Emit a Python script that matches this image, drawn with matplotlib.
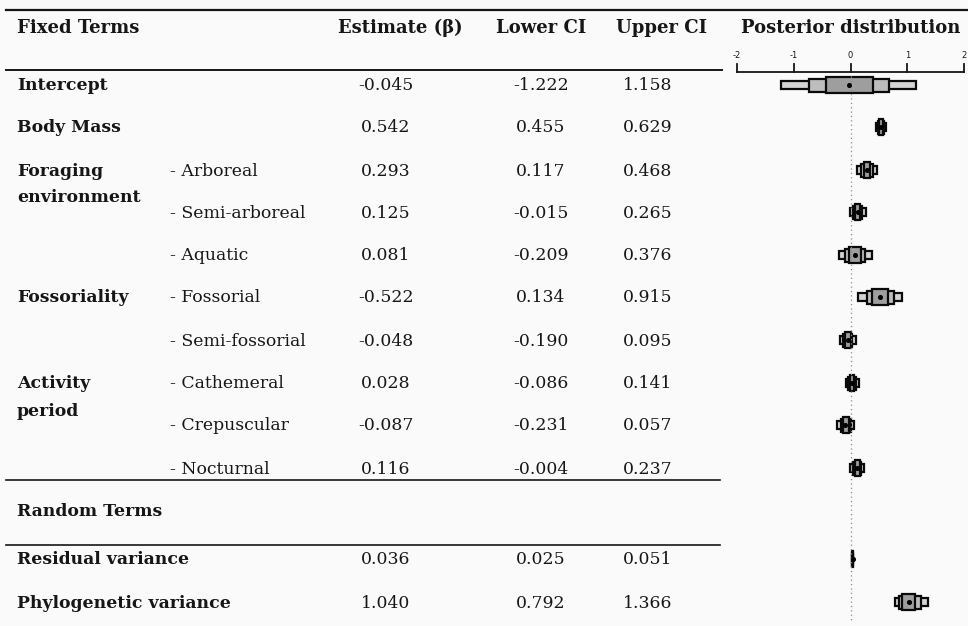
"""
Model summary table with posterior distribution boxes (MCMCglmm style).
"""

import matplotlib.pyplot as plt

# ---- data -----------------------------------------------------------------
group_labels = ["Intercept", "Body Mass", "Foraging\nenvironment", "", "",
                "Fossoriality", "", "Activity\nperiod", "", ""]
level_labels = ["", "", "- Arboreal", "- Semi-arboreal", "- Aquatic",
                "- Fossorial", "- Semi-fossorial", "- Cathemeral",
                "- Crepuscular", "- Nocturnal"]
random_labels = ["Residual variance", "Phylogenetic variance"]

estimate = ["-0.045", "0.542", "0.293", "0.125", "0.081", "-0.522", "-0.048",
            "0.028", "-0.087", "0.116", "0.036", "1.040"]
lower_ci = ["-1.222", "0.455", "0.117", "-0.015", "-0.209", "0.134", "-0.190",
            "-0.086", "-0.231", "-0.004", "0.025", "0.792"]
upper_ci = ["1.158", "0.629", "0.468", "0.265", "0.376", "0.915", "0.095",
            "0.141", "0.057", "0.237", "0.051", "1.366"]

# posterior summaries (outer box = 95% CI from the table)
post_median = [-0.03, 0.54, 0.29, 0.125, 0.08, 0.52, -0.05, 0.03, -0.09, 0.115, 0.037, 1.03]
mid_low = [-0.74, 0.49, 0.19, 0.04, -0.09, 0.29, -0.13, -0.04, -0.175, 0.045, 0.031, 0.86]
mid_high = [0.67, 0.59, 0.40, 0.21, 0.26, 0.76, 0.035, 0.095, 0.0, 0.19, 0.045, 1.25]
in_low = [-0.44, 0.51, 0.23, 0.075, -0.02, 0.38, -0.10, -0.01, -0.14, 0.075, 0.033, 0.91]
in_high = [0.40, 0.57, 0.35, 0.175, 0.19, 0.66, 0.0, 0.07, -0.035, 0.16, 0.042, 1.14]

axis_ticks = [-2, -1, 0, 1, 2]

# ---- layout (pixel rows) --------------------------------------------------
W, H = 968, 626
row_y = [86, 128, 171, 213, 256, 298, 341, 384, 426, 469, 560, 603]
random_header_y = 512
header_y = 28

ink = "#161616"
font = "DejaVu Serif"
fs = 12.4
fs_head = 13

fig = plt.figure(figsize=(W / 100, H / 100), dpi=100, facecolor="#fafafa")
ax = fig.add_axes([0, 0, 1, 1])
ax.set_xlim(0, W)
ax.set_ylim(H, 0)
ax.axis("off")

# horizontal rules
ax.plot([6, W], [10, 10], color=ink, lw=1.6)
ax.plot([6, 722], [70, 70], color=ink, lw=1.4)
ax.plot([6, 720], [480, 480], color=ink, lw=1.2)
ax.plot([6, 720], [545, 545], color=ink, lw=1.2)

txt = dict(fontfamily=font, color=ink, va="center")

# header
ax.text(17, header_y, "Fixed Terms", ha="left", fontweight="bold", fontsize=fs_head, **txt)
ax.text(400, header_y, "Estimate (β)", ha="center", fontweight="bold", fontsize=fs_head, **txt)
ax.text(541, header_y, "Lower CI", ha="center", fontweight="bold", fontsize=fs_head, **txt)
ax.text(662, header_y, "Upper CI", ha="center", fontweight="bold", fontsize=fs_head, **txt)
ax.text(851, header_y, "Posterior distribution", ha="center", fontweight="bold",
        fontsize=fs_head, **txt)
ax.text(17, random_header_y, "Random Terms", ha="left", fontweight="bold", fontsize=fs, **txt)

# fixed term rows
for i in range(len(group_labels)):
    y = row_y[i]
    for k, line in enumerate(group_labels[i].split("\n")):
        if line:
            ax.text(17, y + k * 27, line, ha="left", fontweight="bold", fontsize=fs, **txt)
    if level_labels[i]:
        ax.text(170, y, level_labels[i], ha="left", fontsize=fs, **txt)

# random term rows
for j, lab in enumerate(random_labels):
    ax.text(17, row_y[10 + j], lab, ha="left", fontweight="bold", fontsize=fs, **txt)

# numeric columns
for i in range(len(estimate)):
    y = row_y[i]
    ax.text(386, y, estimate[i], ha="center", fontsize=fs, **txt)
    ax.text(541, y, lower_ci[i], ha="center", fontsize=fs, **txt)
    ax.text(648, y, upper_ci[i], ha="center", fontsize=fs, **txt)

# ---- posterior panel ------------------------------------------------------
px0, px1 = 737, 964
pax = fig.add_axes([px0 / W, 0, (px1 - px0) / W, 1])
pax.set_xlim(-2, 2)
pax.set_ylim(H, 0)
pax.axis("off")

# own axis on top
pax.plot([axis_ticks[0], axis_ticks[-1]], [72, 72], color=ink, lw=1.3, clip_on=False)
for t in axis_ticks:
    pax.plot([t, t], [64, 72], color=ink, lw=1.3, clip_on=False)
    pax.text(t, 55, str(t), ha="center", va="center", fontsize=6,
             fontfamily="DejaVu Sans", color=ink, clip_on=False)

pax.plot([0, 0], [76, 622], color="#8a8a8a", lw=0.9, ls=(0, (1, 2.5)))

lo95 = [float(v) for v in lower_ci]
hi95 = [float(v) for v in upper_ci]
for i in range(len(row_y)):
    y = row_y[i] - 1
    pax.barh(y, hi95[i] - lo95[i], left=lo95[i], height=8,
             color="#d4d4d4", edgecolor="#0a0a0a", linewidth=1.6)
    pax.barh(y, mid_high[i] - mid_low[i], left=mid_low[i], height=13,
             color="#bdbdbd", edgecolor="#0a0a0a", linewidth=1.6)
    pax.barh(y, in_high[i] - in_low[i], left=in_low[i], height=16,
             color="#9e9e9e", edgecolor="#0a0a0a", linewidth=1.6)
    pax.scatter(post_median[i], y, s=7, color="#000000", zorder=5)

fig.savefig("out.png", dpi=100, facecolor=fig.get_facecolor())
